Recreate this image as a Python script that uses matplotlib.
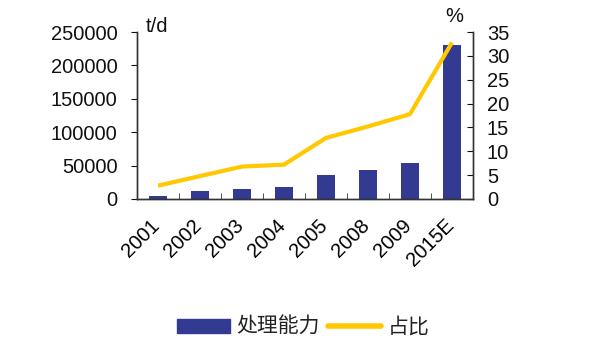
import matplotlib.pyplot as plt
import numpy as np
from matplotlib.patches import Patch
from matplotlib.lines import Line2D
from matplotlib.transforms import ScaledTranslation

plt.rcParams["font.family"] = ["Liberation Sans", "Noto Sans CJK SC", "DejaVu Sans"]

years = ["2001", "2002", "2003", "2004", "2005", "2008", "2009", "2015E"]
capacity = [5000, 12000, 15000, 18000, 36000, 43000, 54000, 230000]
share = [2.8, 4.8, 6.8, 7.2, 12.8, 15.2, 17.8, 32.8]

bar_color = "#333A91"
line_color = "#FFC800"
ink = "#111111"
fs = 14.5

fig = plt.figure(figsize=(6.01, 3.53), dpi=100)
ax = fig.add_axes([137 / 601, 1 - 199 / 353, (473 - 137) / 601, 167 / 353])
ax2 = ax.twinx()

x = np.arange(len(years))
ax.bar(x, capacity, width=0.45, color=bar_color, zorder=2)
ax2.plot(x, share, color=line_color, linewidth=3, solid_capstyle="butt", zorder=3)

ax.set_xlim(-0.5, len(years) - 0.5)
ax.set_ylim(0, 250000)
ax2.set_ylim(0, 35)
ax.set_yticks(np.arange(0, 250001, 50000))
ax2.set_yticks(np.arange(0, 36, 5))

ax.set_xticks(x)
ax.set_xticklabels(years, rotation=45, ha="right", rotation_mode="anchor", fontsize=fs)
ax.tick_params(axis="x", length=0, pad=12)
shift = ScaledTranslation(-8 / 100, 0, fig.dpi_scale_trans)
for lab in ax.get_xticklabels():
    lab.set_transform(lab.get_transform() + shift)
ax.set_xticks(np.arange(-0.5, len(years), 1), minor=True)
ax.tick_params(axis="x", which="minor", direction="in", length=4, color="#333333")
ax.tick_params(axis="y", direction="out", length=4, labelsize=fs, colors=ink, pad=10)
ax2.tick_params(axis="y", direction="in", length=4, labelsize=fs, colors=ink, pad=10)

for a in (ax, ax2):
    a.spines["top"].set_visible(False)
    for s in ("left", "right", "bottom"):
        a.spines[s].set_color("#333333")
        a.spines[s].set_linewidth(1)
ax.set_facecolor("none")

fig.text(146 / 601, 1 - 26 / 353, "t/d", fontsize=fs, color=ink, va="center", ha="left")
fig.text(454 / 601, 1 - 16 / 353, "%", fontsize=fs, color=ink, va="center", ha="center")

handles = [
    Patch(facecolor=bar_color, edgecolor=bar_color),
    Line2D([0], [0], color=line_color, linewidth=4, solid_capstyle="round"),
]
leg = fig.legend(
    handles,
    ["处理能力", "占比"],
    loc="center",
    bbox_to_anchor=(303 / 601, 1 - 327 / 353),
    ncol=2,
    frameon=False,
    handlelength=2.55,
    handleheight=0.65,
    handletextpad=0.3,
    columnspacing=0.4,
    prop={"family": ["Noto Sans CJK SC"], "size": 15},
)
for t in leg.get_texts():
    t.set_color("#222222")

fig.savefig("out.png", dpi=100, facecolor="white")
